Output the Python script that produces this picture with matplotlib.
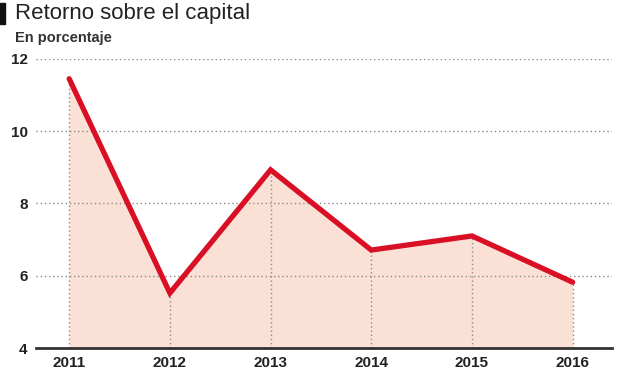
import matplotlib
matplotlib.use("Agg")
import matplotlib.pyplot as plt
from matplotlib.patches import Rectangle

plt.rcParams['font.family'] = ['Liberation Sans Narrow', 'Liberation Sans', 'DejaVu Sans']

# data
years = [2011, 2012, 2013, 2014, 2015, 2016]
roe = [11.45, 5.52, 8.93, 6.71, 7.10, 5.82]
y_ticks = [4, 6, 8, 10, 12]

line_color = '#d90f25'
fill_color = '#fbe1d5'
grid_color = '#8a8a8a'

fig = plt.figure(figsize=(6.2, 3.75), dpi=100)
ax = fig.add_axes([0.058, 0.072, 0.929, 0.771])

ax.fill_between(years, roe, 4, color=fill_color, lw=0, zorder=1)
for yv in y_ticks[1:]:
    ax.axhline(yv, color=grid_color, lw=1.0, ls=(0, (1, 2)), zorder=2)
ax.vlines(years, 4, roe, color=grid_color, lw=1.0, ls=(0, (1, 2)), zorder=2)
ax.plot(years, roe, color=line_color, lw=3.8, solid_capstyle='round',
        solid_joinstyle='miter', zorder=4)

ax.set_xlim(2010.67, 2016.39)
ax.set_ylim(4, 12)
ax.set_yticks(y_ticks)
ax.set_xticks(years)
ax.set_xticklabels([str(y) for y in years], fontsize=11, fontweight='bold', color='#222222')
ax.set_yticklabels([str(y) for y in y_ticks], fontsize=11, fontweight='bold', color='#222222')
ax.tick_params(length=0, pad=6)
ax.tick_params(axis='x', pad=6)

for s in ['top', 'right', 'left']:
    ax.spines[s].set_visible(False)
ax.spines['bottom'].set_color('#333333')
ax.spines['bottom'].set_linewidth(2)
ax.spines['bottom'].set_zorder(5)
ax.set_facecolor('white')

# title block
fig.patches.append(Rectangle((0.0, 0.935), 0.008, 0.058, transform=fig.transFigure,
                             color='#111111'))
fig.text(0.024, 0.963, 'Retorno sobre el capital', fontsize=16, color='#222222',
         va='center', ha='left')
fig.text(0.024, 0.898, 'En porcentaje', fontsize=10.5, fontweight='bold',
         color='#333333', va='center', ha='left')

fig.savefig('out.png', dpi=100)
